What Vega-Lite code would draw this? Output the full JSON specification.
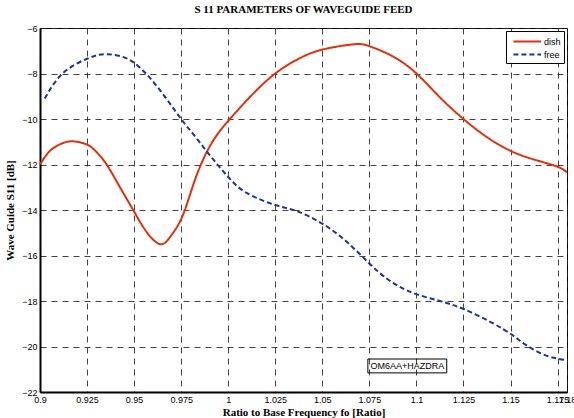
{
  "$schema": "https://vega.github.io/schema/vega-lite/v6.json",
  "width": 527,
  "height": 364,
  "autosize": "none",
  "padding": {"left": 40, "top": 28, "right": 7, "bottom": 26},
  "background": "white",
  "title": {
    "text": "S 11 PARAMETERS OF WAVEGUIDE FEED",
    "font": "Liberation Serif",
    "fontSize": 11,
    "fontWeight": "bold",
    "color": "black",
    "anchor": "middle",
    "offset": 9
  },
  "config": {
    "view": {"stroke": "black", "strokeWidth": 1},
    "axis": {
      "labelFont": "Liberation Sans",
      "labelFontSize": 9,
      "labelColor": "black",
      "titleFont": "Liberation Serif",
      "titleFontSize": 11,
      "titleFontWeight": "bold",
      "titleColor": "black",
      "domainColor": "black",
      "domainWidth": 2,
      "gridColor": "#222",
      "gridOpacity": 0.85,
      "gridDash": [6, 5],
      "gridWidth": 1,
      "ticks": false,
      "labelOverlap": false,
      "labelFlush": false,
      "labelBound": false
    }
  },
  "layer": [
    {
      "data": {
        "values": [
          {"f": 0.9, "s11": -12.0, "series": "dish"},
          {"f": 0.9053, "s11": -11.4, "series": "dish"},
          {"f": 0.911, "s11": -11.1, "series": "dish"},
          {"f": 0.9168, "s11": -10.98, "series": "dish"},
          {"f": 0.9248, "s11": -11.12, "series": "dish"},
          {"f": 0.93, "s11": -11.45, "series": "dish"},
          {"f": 0.9354, "s11": -12.0, "series": "dish"},
          {"f": 0.9425, "s11": -13.0, "series": "dish"},
          {"f": 0.9495, "s11": -14.0, "series": "dish"},
          {"f": 0.9565, "s11": -14.95, "series": "dish"},
          {"f": 0.9637, "s11": -15.5, "series": "dish"},
          {"f": 0.969, "s11": -15.2, "series": "dish"},
          {"f": 0.975, "s11": -14.4, "series": "dish"},
          {"f": 0.98, "s11": -13.25, "series": "dish"},
          {"f": 0.985, "s11": -12.1, "series": "dish"},
          {"f": 0.992, "s11": -10.95, "series": "dish"},
          {"f": 1.0009, "s11": -10.0, "series": "dish"},
          {"f": 1.0125, "s11": -8.95, "series": "dish"},
          {"f": 1.025, "s11": -8.0, "series": "dish"},
          {"f": 1.0375, "s11": -7.35, "series": "dish"},
          {"f": 1.05, "s11": -6.95, "series": "dish"},
          {"f": 1.0662, "s11": -6.72, "series": "dish"},
          {"f": 1.075, "s11": -6.8, "series": "dish"},
          {"f": 1.0875, "s11": -7.25, "series": "dish"},
          {"f": 1.1, "s11": -8.0, "series": "dish"},
          {"f": 1.1125, "s11": -9.05, "series": "dish"},
          {"f": 1.125, "s11": -10.0, "series": "dish"},
          {"f": 1.1375, "s11": -10.8, "series": "dish"},
          {"f": 1.15, "s11": -11.4, "series": "dish"},
          {"f": 1.1625, "s11": -11.78, "series": "dish"},
          {"f": 1.175, "s11": -12.1, "series": "dish"},
          {"f": 1.18, "s11": -12.35, "series": "dish"},
          {"f": 0.9025, "s11": -9.1, "series": "free"},
          {"f": 0.912, "s11": -8.0, "series": "free"},
          {"f": 0.925, "s11": -7.35, "series": "free"},
          {"f": 0.935, "s11": -7.15, "series": "free"},
          {"f": 0.945, "s11": -7.3, "series": "free"},
          {"f": 0.9525, "s11": -7.7, "series": "free"},
          {"f": 0.9625, "s11": -8.6, "series": "free"},
          {"f": 0.975, "s11": -10.0, "series": "free"},
          {"f": 0.9813, "s11": -10.65, "series": "free"},
          {"f": 0.9903, "s11": -11.6, "series": "free"},
          {"f": 1.0, "s11": -12.55, "series": "free"},
          {"f": 1.0098, "s11": -13.25, "series": "free"},
          {"f": 1.025, "s11": -13.78, "series": "free"},
          {"f": 1.0364, "s11": -14.05, "series": "free"},
          {"f": 1.05, "s11": -14.6, "series": "free"},
          {"f": 1.063, "s11": -15.4, "series": "free"},
          {"f": 1.075, "s11": -16.35, "series": "free"},
          {"f": 1.084, "s11": -17.0, "series": "free"},
          {"f": 1.0913, "s11": -17.38, "series": "free"},
          {"f": 1.1, "s11": -17.7, "series": "free"},
          {"f": 1.1125, "s11": -18.0, "series": "free"},
          {"f": 1.125, "s11": -18.35, "series": "free"},
          {"f": 1.14, "s11": -18.95, "series": "free"},
          {"f": 1.151, "s11": -19.5, "series": "free"},
          {"f": 1.1585, "s11": -19.95, "series": "free"},
          {"f": 1.169, "s11": -20.4, "series": "free"},
          {"f": 1.18, "s11": -20.6, "series": "free"}
        ]
      },
      "mark": {"type": "line", "interpolate": "natural", "strokeWidth": 2},
      "encoding": {
        "x": {
          "field": "f",
          "type": "quantitative",
          "scale": {"domain": [0.9, 1.18], "nice": false, "zero": false},
          "axis": {
            "title": "Ratio to Base Frequency fo  [Ratio]",
            "values": [0.9, 0.925, 0.95, 0.975, 1, 1.025, 1.05, 1.075, 1.1, 1.125, 1.15, 1.175, 1.18],
            "format": ".4~g",
            "labelPadding": 3,
            "titlePadding": 2
          }
        },
        "y": {
          "field": "s11",
          "type": "quantitative",
          "scale": {"domain": [-22, -6], "nice": false, "zero": false},
          "axis": {
            "title": "Wave Guide S11 [dB]",
            "values": [-22, -20, -18, -16, -14, -12, -10, -8, -6],
            "labelPadding": 3,
            "titlePadding": 6
          }
        },
        "color": {
          "field": "series",
          "type": "nominal",
          "scale": {"domain": ["dish", "free"], "range": ["#e0300c", "#1c3596"]},
          "legend": {
            "title": null,
            "orient": "top-right",
            "offset": 3,
            "strokeColor": "black",
            "fillColor": "white",
            "padding": 3,
            "symbolType": "M-0.5,0H4",
            "symbolSize": 150,
            "symbolStrokeWidth": 2,
            "labelFont": "Liberation Sans",
            "labelFontSize": 9,
            "labelColor": "black",
            "labelOffset": 20,
            "rowPadding": 0
          }
        },
        "strokeDash": {
          "field": "series",
          "type": "nominal",
          "scale": {"domain": ["dish", "free"], "range": [[1, 0], [5, 3]]},
          "legend": null
        }
      }
    },
    {
      "data": {"values": [{"x1": 1.0742, "x2": 1.1161, "y1": -20.55, "y2": -21.16}]},
      "mark": {"type": "rect", "fill": null, "fillOpacity": 0, "stroke": "black", "strokeWidth": 1},
      "encoding": {
        "x": {"field": "x1", "type": "quantitative"},
        "x2": {"field": "x2"},
        "y": {"field": "y1", "type": "quantitative"},
        "y2": {"field": "y2"}
      }
    },
    {
      "data": {"values": [{"xc": 1.0952, "yc": -20.86, "label": "OM6AA+HAZDRA"}]},
      "mark": {"type": "text", "font": "Liberation Sans", "fontSize": 9, "color": "black", "align": "center", "baseline": "middle"},
      "encoding": {
        "x": {"field": "xc", "type": "quantitative"},
        "y": {"field": "yc", "type": "quantitative"},
        "text": {"field": "label"}
      }
    }
  ]
}
